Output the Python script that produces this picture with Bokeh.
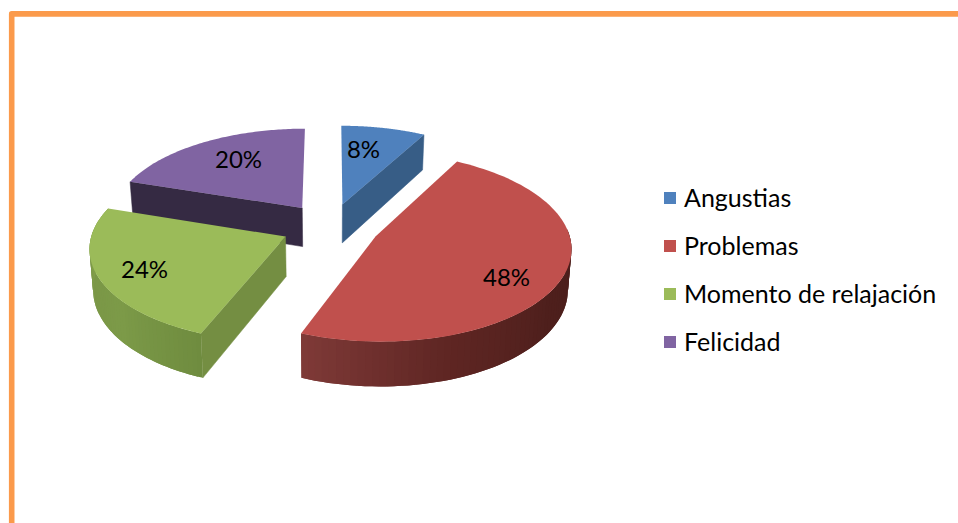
import numpy as np
from bokeh.plotting import figure
from bokeh.models import Range1d, Legend, LegendItem
from bokeh.core.properties import value
from bokeh.embed import file_html
from bokeh.resources import INLINE

# ---- data
categories = ["Angustias", "Problemas", "Momento de relajación", "Felicidad"]
percent = [8, 48, 24, 20]
labels = ["8%", "48%", "24%", "20%"]

# ---- style
top_colors = ["#4F81BD", "#C0504D", "#9BBB59", "#8064A2"]
cut_colors = ["#375D86", None, "#748E42", "#352A43"]
FONT = "Lato"
label_pos = [(363, 147.5), (506, 275.5), (144, 267.5), (238, 157.5)]
border_color = "#FB9A4B"

# ---- projection of the tilted, exploded pie (screen pixels)
CX, CY = 330.0, 226.0
A, B = 192.0, 91.5
K = 0.107
DEPTH = 39.5
EXPLODE = 0.256
BOTTOM_X = 0.985


def project(X, V, low=False):
    X, V = np.asarray(X, float), np.asarray(V, float)
    s = 1.0 / (1.0 - K * V)
    dx = A * X * s
    if low:
        dx = dx * BOTTOM_X
    y = CY + B * V * s + (DEPTH * s if low else 0.0)
    return CX + dx, y


p = figure(width=958, height=523, output_backend="svg", toolbar_location=None,
           x_range=Range1d(0, 958), y_range=Range1d(523, 0),
           x_axis_type=None, y_axis_type=None, min_border=0,
           background_fill_color="white", border_fill_color="white", outline_line_color=None)
p.grid.visible = False

fractions = np.array(percent) / sum(percent)
ends = np.cumsum(fractions) * 2 * np.pi
starts = ends - fractions * 2 * np.pi


def world(i, th):
    mid = (starts[i] + ends[i]) / 2
    return np.sin(th) + EXPLODE * np.sin(mid), -np.cos(th) - EXPLODE * np.cos(mid)


def apex(i):
    mid = (starts[i] + ends[i]) / 2
    return EXPLODE * np.sin(mid), -EXPLODE * np.cos(mid)


def mix(c1, c2, t):
    a = [int(c1[j:j + 2], 16) for j in (1, 3, 5)]
    b = [int(c2[j:j + 2], 16) for j in (1, 3, 5)]
    return "#%02x%02x%02x" % tuple(int(round(a[k] + (b[k] - a[k]) * t)) for k in range(3))


def wall(i, th0, th1, stops):
    # overlapping strips, painted so that each one covers the seam of the last
    n = 60
    ths = np.linspace(th0, th1, n + 1)
    for j in range(n):
        X, V = world(i, ths[j:min(j + 3, n + 1)])
        x0, y0 = project(X, V)
        x1, y1 = project(X, V, low=True)
        u = (j + 0.5) / n * (len(stops) - 1)
        k = min(int(u), len(stops) - 2)
        col = mix(stops[k], stops[k + 1], u - k)
        p.patch(list(x0) + list(x1[::-1]), list(y0) + list(y1[::-1]),
                fill_color=col, line_color=None)


def cut(i, th):
    ax, av = apex(i)
    rx, rv = world(i, th)
    x0, y0 = project([ax, rx], [av, rv])
    x1, y1 = project([ax, rx], [av, rv], low=True)
    p.patch(list(x0) + list(x1[::-1]), list(y0) + list(y1[::-1]),
            fill_color=cut_colors[i], line_color=cut_colors[i], line_width=0.5)


def top(i):
    ths = np.linspace(starts[i], ends[i], 90)
    X, V = world(i, ths)
    ax, av = apex(i)
    x, y = project(np.r_[ax, X], np.r_[av, V])
    return p.patch(list(x), list(y), fill_color=top_colors[i], line_color=None)


# ---- frame
p.line([11.2, 11.2, 958], [523, 13.4, 13.4], line_color=border_color, line_width=5.6, line_join="round")

renderers = {}
# back to front
cut(3, starts[3])
renderers[3] = top(3)
cut(0, ends[0])
renderers[0] = top(0)
wall(1, np.radians(85), ends[1], ["#4B1E1B", "#4E1F1C", "#5F2623", "#7F3A38"])
renderers[1] = top(1)
wall(2, starts[2], ends[2], ["#6F8C3F", "#7C9A48", "#7A9646", "#8DAB50"])
cut(2, starts[2])
renderers[2] = top(2)

# ---- data labels
p.text([q[0] for q in label_pos], [q[1] for q in label_pos], text=labels,
       text_align="center", text_baseline="middle", text_color="black",
       text_font=value(FONT), text_font_size="24px")

# ---- legend
legend = Legend(items=[LegendItem(label=categories[i], renderers=[renderers[i]]) for i in range(4)],
                location=(662, 167), orientation="vertical", padding=0, margin=0,
                spacing=18, glyph_width=15, glyph_height=15, label_standoff=7,
                background_fill_alpha=0, border_line_color=None,
                label_text_font=FONT, label_text_font_size="25px", label_text_color="black")
p.add_layout(legend, "center")

open("out.html", "w").write(file_html(p, INLINE))
